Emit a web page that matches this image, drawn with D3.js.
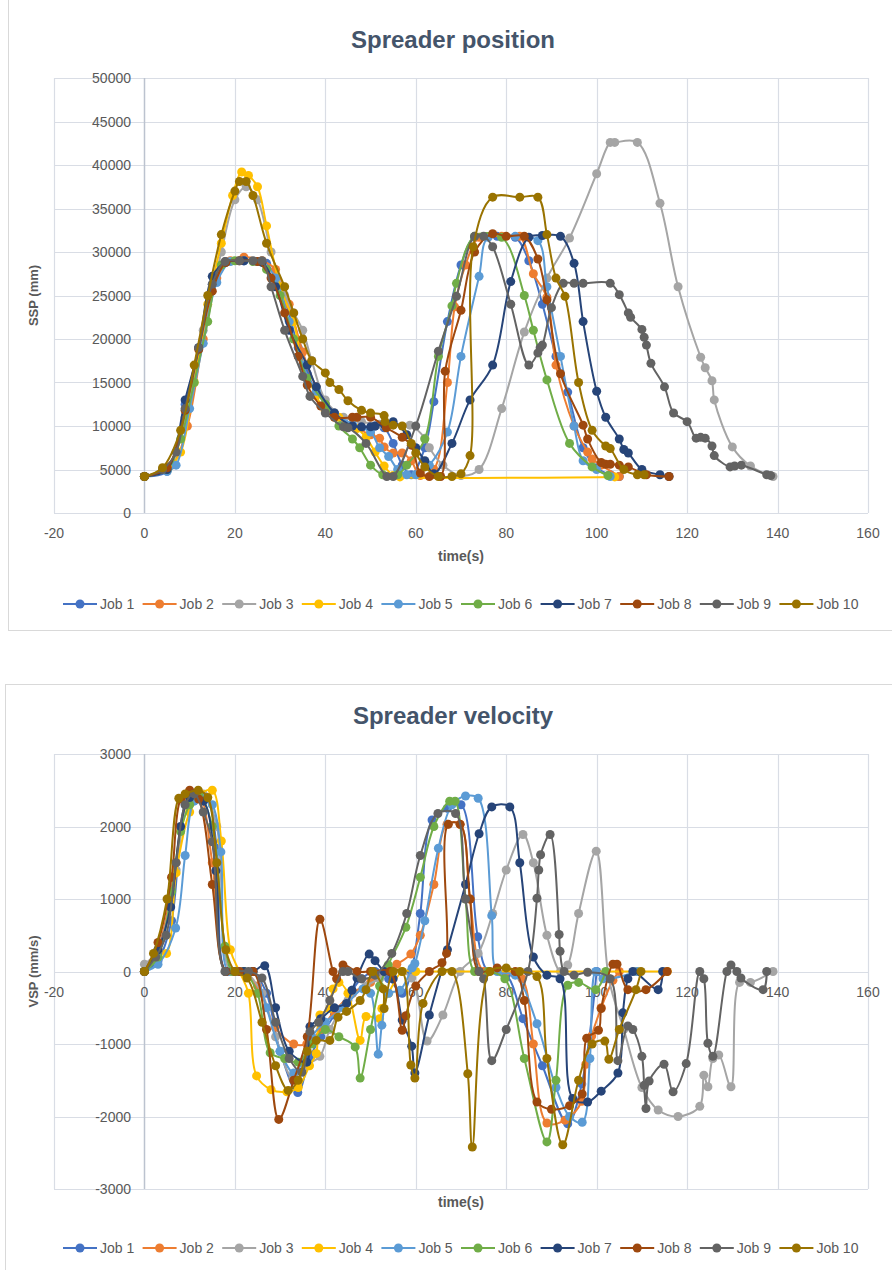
<!DOCTYPE html>
<html>
<head>
<meta charset="utf-8">
<script src="https://cdn.jsdelivr.net/npm/d3@7"></script>
<style>
  body { margin: 0; background: #fff; }
  svg text { font-family: "Liberation Sans", Arial, sans-serif; }
</style>
</head>
<body>
<svg id="chart" width="892" height="1270"></svg>
<script>
// Series names and Office colours
const jobs = ["Job 1", "Job 2", "Job 3", "Job 4", "Job 5", "Job 6", "Job 7", "Job 8", "Job 9", "Job 10"];
const jobColors = ["#4472C4", "#ED7D31", "#A5A5A5", "#FFC000", "#5B9BD5", "#70AD47", "#264478", "#9E480E", "#636363", "#997300"];

// Tick labels
const xTicks = [-20, 0, 20, 40, 60, 80, 100, 120, 140, 160];
const posTicks = [0, 5000, 10000, 15000, 20000, 25000, 30000, 35000, 40000, 45000, 50000];
const velTicks = [-3000, -2000, -1000, 0, 1000, 2000, 3000];

// Spreader position [time (s), SSP (mm)]
const pos1 = [[0,4200],[5,4800],[9,12500],[12,19000],[15,26300],[18,28900],[22,29000],[25,28900],[27,28700],[31,24500],[34,19000],[36,16000],[40,12500],[44,10500],[48,9800],[51,10000],[53,9800],[55,8000],[57,5500],[59,4400],[62,7500],[64,12800],[67,22000],[70,28500],[73,31700],[78,31800],[82,31700],[85,29000],[88,24000],[91,18000],[93.6,13900],[97,7500],[100,5200],[103,4400],[105,4200]];
const pos2 = [[0,4200],[6,5500],[9.5,10000],[13,20000],[16,27000],[19,29000],[22,29400],[26,29000],[29,28000],[32,24000],[35,18500],[38,14500],[42,11500],[46,10000],[50,9000],[52,8600],[53,7600],[55,6900],[57,6900],[59,6000],[61,4300],[64,5000],[67,15000],[68.6,23700],[71,28500],[74,31700],[79,31800],[83,31800],[86,27500],[89,24800],[91,17000],[95,10000],[98,7000],[99,6200],[101,5500],[105,4200]];
const pos3 = [[0,4200],[5,5000],[9,11000],[13,21000],[17,30000],[20,36000],[22.5,37500],[25,36000],[28,30000],[31,25000],[33,23000],[35,21000],[37,17500],[40,13000],[44,11000],[48,10500],[52,10200],[55,10200],[58.7,10100],[62,8600],[63,7500],[66,5500],[70,4300],[74,5000],[79,12000],[84,20800],[89,27000],[94,31600],[100,39000],[103,42600],[104,42600],[109,42600],[114,35600],[118,26000],[123,17900],[124,16700],[125.5,15200],[126,13000],[130,7600],[134,5400],[139,4200]];
const pos4 = [[0,4200],[5,5000],[8,7000],[11,15000],[14,24000],[17,31000],[19.5,36500],[21.5,39200],[23,38800],[25,37500],[27,33000],[30,26000],[33,22000],[35,17000],[38,13500],[40,11700],[43,11000],[45,10000],[47,9700],[49,8700],[51,7000],[53,5400],[55,4300],[56.5,4150],[104,4150]];
const pos5 = [[0,4200],[5,4800],[7,5500],[10,12000],[13,19500],[16,26500],[19,28900],[22,29000],[26,28900],[29,27000],[32,22000],[35,17000],[38,14000],[42,11500],[46,10200],[50,9300],[52,7500],[54,6500],[56,5000],[58,4400],[60,4400],[63,5500],[67,9300],[70,18000],[74,27200],[76,31700],[82,31800],[87,31300],[89,26000],[92,18000],[95,10000],[97,6000],[100,5000],[103,4200]];
const pos6 = [[0,4200],[5,5000],[8,8500],[11,15000],[14,22000],[17,28500],[20,29000],[24,28900],[27,28000],[30,25000],[33,20000],[36,15500],[40,12500],[43,10000],[46,8500],[47.6,7500],[50,5500],[52.7,4400],[56,4400],[58,5500],[62,8500],[65,18000],[68,23800],[69,26400],[73,31800],[79,31700],[84,25000],[86,21000],[89,15300],[94,8000],[99,5300],[102.5,4300]];
const pos7 = [[0,4200],[5,5000],[9,13000],[12,19000],[15,27200],[18,28800],[22,29000],[26,28800],[29,26000],[32,21000],[36,17000],[38,14500],[42,11500],[46,10000],[48,9900],[50,9900],[51,10000],[53,10200],[55,10500],[58,9000],[60,7500],[62,6000],[64,4500],[68,8000],[72,13000],[77,17000],[81,26600],[85,31700],[88,31900],[92,31800],[95,28700],[97,22000],[100,14000],[102,11000],[105,8500],[106,7300],[107,6900],[110,5000],[114,4400],[116,4200]];
const pos8 = [[0,4200],[5,5200],[9,11800],[12,18800],[15,25500],[18,28800],[21,29000],[25,28900],[28,27000],[31,23000],[34,18000],[36,14700],[39,12300],[42,11000],[46,11000],[47,11000],[50,11000],[53.5,9800],[57,8700],[59,7800],[61,4600],[63,4200],[65.5,4200],[66.5,16300],[70,23300],[73,30000],[77,32100],[80,31800],[84,31800],[87,29200],[89,24500],[92,16000],[97,10100],[98,8500],[101,5800],[102,5600],[103,5600],[105,5500],[107,5300],[111,4400],[116,4200]];
const pos9 = [[0,4200],[4,5000],[7,7000],[9,12000],[12,19000],[15,26300],[17.8,28900],[21,29000],[24,29000],[26,29000],[28,26000],[31,21000],[35,15700],[36.6,13400],[40,11500],[44,9900],[45,9800],[49,8000],[53.6,4200],[55,4200],[60,10000],[65,18600],[69,24900],[73,31800],[75,31800],[77,30600],[81,24000],[85,17000],[87,18400],[87.5,19000],[88,19300],[90,23600],[92.6,26400],[95,26400],[97,26400],[103,26400],[105,25100],[107,23000],[107.5,22500],[110,21100],[110.5,20200],[111,19300],[112,17200],[115,14500],[117,11500],[120,10500],[122,8600],[123,8700],[124,8600],[125.5,7700],[126,6600],[129.5,5300],[130.5,5400],[132,5500],[137.6,4400],[138.5,4300]];
const pos10 = [[0,4200],[4,5200],[8,9500],[11,17000],[14,25000],[17,32000],[20,37000],[21,38100],[22.5,38100],[24,36500],[27,31000],[31,26000],[33,23000],[35,20000],[37,17500],[40,16100],[41,15000],[43,14200],[45,12900],[48,11800],[50,11500],[53,11200],[53.2,10500],[55,10100],[57,10000],[59,8000],[60,6900],[62,5300],[65,4200],[68,4200],[70,4500],[72,6600],[72.7,30600],[77,36300],[83,36300],[87,36300],[89,32000],[91,27000],[93,24900],[96,15000],[99,9500],[102,7700],[103,7400],[106,5000],[109,4400],[110.5,4400]];

// Spreader velocity [time (s), VSP (mm/s)]
const vel1 = [[0,0],[3,150],[6,700],[9,2300],[11,2450],[13.8,2380],[16,1700],[18,0],[21,0],[24,0],[27,-300],[30,-1100],[33.9,-1670],[36.5,-1200],[39,-900],[42,-600],[45.9,-260],[48,-100],[51,0],[54,-100],[57,-300],[59,0],[61,800],[63.6,2090],[67,2250],[70,2300],[73.7,480],[76,0],[80,-50],[83.7,-650],[88,-1300],[93.6,-2100],[96.7,-1550],[100,0]];
const vel2 = [[0,0],[3,300],[7,1500],[9.5,2350],[12,2450],[15,1500],[18,0],[21,0],[25,-200],[28.9,-770],[33,-1000],[35.9,-1000],[39,-800],[42,-550],[46,-300],[50,-150],[53,0],[55.8,100],[58.9,240],[61,500],[64,1200],[66.9,2030],[69.8,2030],[72,1000],[75,0],[80,0],[83.5,-100],[86,-1000],[89,-2090],[93,-2050],[96.7,-1790],[97.6,-1280],[98.9,-890],[101,-500],[103.6,-120],[105,0]];
const vel3 = [[0,100],[3,300],[7,1400],[10,2400],[13,2450],[16,2000],[19,0],[22,0],[26,-300],[29,-900],[32.8,-1470],[35.5,-1300],[38.8,-1170],[41,-800],[45,-400],[49,-200],[52,-100],[55,0],[59.1,-90],[62.5,-960],[66,-600],[69.8,0],[73.8,250],[77,800],[80,1400],[83.7,1890],[86,1500],[89,500],[92,0],[93.6,90],[96,800],[99.9,1660],[102.7,-100],[106,-800],[110,-1600],[113.6,-1910],[118,-2000],[122.8,-1860],[123.7,-1430],[124.6,-1590],[125.7,-1200],[127,-1150],[129.7,-1590],[131.6,-150],[134,-150],[139,0]];
const vel4 = [[0,0],[2.5,150],[4.9,250],[7,1360],[10,2200],[12.5,2450],[15,2500],[17,1800],[19,300],[21,0],[23,-300],[24.8,-1440],[28,-1630],[31.5,-1660],[34,-1600],[36.5,-1300],[38,-1130],[38.8,-600],[41,-510],[41.7,-240],[43,-150],[45,-300],[47.7,-950],[49,-620],[52,-650],[52.5,-510],[54,-300],[57,0],[60,0],[108.9,0],[115.6,0]];
const vel5 = [[0,0],[3,100],[6.9,600],[9,1600],[11,2350],[13,2400],[15,2300],[16.9,1650],[18.5,0],[21,0],[24,0],[27,-500],[30,-1100],[33,-1400],[35,-1250],[37,-900],[40,-700],[44,-500],[48.3,-240],[50,-300],[51.7,-1140],[52.5,-740],[54,-300],[56.5,-260],[59.2,50],[59.8,110],[62,700],[65,1700],[68,2300],[71,2420],[73.8,2390],[76.8,770],[78,0],[82,-50],[86.8,-720],[91,-1600],[94,-2000],[96.8,-2080],[98.5,-1200],[99.8,0],[101.4,-100],[108.9,0]];
const vel6 = [[0,0],[3,200],[6,1100],[8,1930],[10,2300],[12,2450],[15,2000],[17.8,350],[19.5,0],[22,0],[25,-300],[27.8,-1120],[31,-1200],[34,-1250],[37,-1000],[40,-800],[43,-900],[46.6,-1040],[47.7,-1470],[50,-800],[52,-200],[53.9,90],[57.8,610],[61,1300],[64,2000],[67.5,2350],[68.7,2350],[71,1000],[73,0],[76,0],[79.7,-100],[84,-1200],[89,-2350],[91,-1500],[93.6,-190],[96,-150],[99.8,-250],[102,0]];
const vel7 = [[0,0],[3,300],[5.8,890],[8,2000],[10,2400],[13,2350],[15.8,1390],[18,0],[22,0],[24,0],[26.6,80],[29,-500],[32,-1100],[35.9,-1250],[36.6,-760],[39,-650],[42,-500],[44.7,-440],[45.9,-260],[47,-90],[49.7,240],[51,150],[53,0],[55,-100],[57,-670],[59.1,-1030],[59.8,-1400],[63,-600],[67,300],[71,1200],[74,1900],[76.8,2270],[80.8,2270],[83,1500],[86,200],[89,-50],[91.9,-100],[94.7,-1750],[98,-1800],[101,-1650],[104.7,-1400],[105.8,-570],[106.9,-100],[108,0],[113.6,-250],[114.6,0]];
const vel8 = [[0,0],[3,400],[6,1300],[8,2380],[10,2500],[12,2380],[15,1200],[18,0],[21,0],[24,0],[27,-800],[29.7,-2040],[33,-1500],[36,-900],[38.8,720],[41.7,0],[42.5,-100],[43.9,90],[47,0],[50,0],[54.3,0],[57,-810],[57.8,-610],[60,-200],[63,0],[65.8,120],[66.8,250],[67.2,2030],[69.8,2030],[72,1000],[74,0],[78,50],[82,0],[84,-400],[86.8,-1800],[90,-1900],[94,-1850],[96.8,-1690],[97.8,-920],[100.4,-810],[101,-510],[103.6,100],[104.5,100],[106.9,-250],[110.9,-250],[115.6,0]];
const vel9 = [[0,0],[2.5,200],[4.8,500],[7,1500],[9,2300],[11,2450],[13,2200],[15,1790],[17.8,0],[20,0],[23,0],[26,-90],[29,-700],[32,-1200],[34.8,-1390],[36.6,-830],[38.5,-700],[41,-400],[43.9,0],[45,0],[48,-100],[51,-50],[54.7,250],[58,800],[61,1600],[64.9,2180],[68.8,2180],[71,1000],[74,0],[75,-100],[76.8,-1230],[80,-800],[84.8,0],[86.8,1010],[87.2,1400],[87.6,1610],[89.7,1890],[91.7,510],[91.9,280],[92.8,0],[95,-50],[98,-10],[103,-100],[104.7,-1230],[106.9,-750],[108,-800],[110,-1170],[110.5,-1570],[110.9,-1890],[111.6,-1510],[114.9,-1280],[116.9,-1660],[119.8,-1270],[122.8,0],[123.7,-100],[124.6,-990],[125.7,-1170],[128.8,0],[129.7,90],[131,0],[131.9,-90],[136.8,-250],[137.6,0]];
const vel10 = [[0,0],[2,250],[5,1000],[7.6,2390],[9,2450],[11.9,2500],[14,2400],[16,1500],[18,300],[20,0],[22.7,-90],[26,-700],[29,-1300],[31.8,-1640],[34,-1500],[36,-1100],[38,-950],[41,-950],[42.8,-630],[44.7,-550],[47.7,-400],[49,-250],[50.5,0],[52.8,-240],[53,-510],[55,0],[57,0],[58.9,-1290],[59.8,-1470],[61.6,-440],[65.8,0],[68,0],[71.5,-1410],[72.5,-2420],[76.4,0],[80,50],[83,0],[86.8,-70],[89,-1200],[92.5,-2390],[96,-1500],[99,-1000],[101.8,-960],[102.7,-1210],[105,-800],[108.7,-250],[109.8,0]];

const posSeries = [pos1, pos2, pos3, pos4, pos5, pos6, pos7, pos8, pos9, pos10];
const velSeries = [vel1, vel2, vel3, vel4, vel5, vel6, vel7, vel8, vel9, vel10];

const svg = d3.select("#chart");
const TEXT = "#595959";
const GRID = "#d9dde5";

function drawPanel(cfg) {
  const g = svg.append("g");

  // panel frame
  g.append("rect")
    .attr("x", cfg.frame[0] + 0.5).attr("y", cfg.frame[1] + 0.5)
    .attr("width", cfg.frame[2]).attr("height", cfg.frame[3])
    .attr("fill", "#fff").attr("stroke", "#d9d9d9");

  const x = d3.scaleLinear().domain([-20, 160]).range([54, 868]);
  const y = d3.scaleLinear().domain(cfg.yDomain).range([cfg.bottom, cfg.top]);

  // gridlines
  g.append("g").selectAll("line").data(cfg.yTicks).join("line")
    .attr("x1", x(-20)).attr("x2", x(160))
    .attr("y1", d => Math.round(y(d)) + 0.5).attr("y2", d => Math.round(y(d)) + 0.5)
    .attr("stroke", GRID).attr("stroke-width", 1.2);
  g.append("g").selectAll("line").data(xTicks).join("line")
    .attr("x1", d => Math.round(x(d)) + 0.5).attr("x2", d => Math.round(x(d)) + 0.5)
    .attr("y1", cfg.top).attr("y2", cfg.bottom)
    .attr("stroke", d => d === 0 ? "#bcc3cf" : GRID).attr("stroke-width", d => d === 0 ? 1.5 : 1.2);

  // tick labels
  g.append("g").selectAll("text").data(cfg.yTicks).join("text")
    .attr("x", 131).attr("y", d => y(d) + 5)
    .attr("text-anchor", "end").attr("font-size", 14).attr("fill", TEXT)
    .text(d => d);
  const xLabelY = y(cfg.xAxisAt) + 25;
  g.append("g").selectAll("text").data(xTicks).join("text")
    .attr("x", d => x(d)).attr("y", xLabelY)
    .attr("text-anchor", "middle").attr("font-size", 14).attr("fill", TEXT)
    .text(d => d);

  // titles
  g.append("text").attr("x", 453).attr("y", cfg.titleY)
    .attr("text-anchor", "middle").attr("font-size", 24).attr("font-weight", "bold")
    .attr("fill", "#44546A").text(cfg.title);
  g.append("text").attr("x", 461).attr("y", cfg.xTitleY)
    .attr("text-anchor", "middle").attr("font-size", 14).attr("font-weight", "bold")
    .attr("fill", TEXT).text("time(s)");
  g.append("text")
    .attr("transform", `translate(38,${(cfg.top + cfg.bottom) / 2}) rotate(-90)`)
    .attr("text-anchor", "middle").attr("font-size", 13).attr("font-weight", "bold")
    .attr("fill", TEXT).text(cfg.yTitle);

  // series: smoothed lines with round markers
  const line = d3.line()
    .x(d => x(d[0])).y(d => y(d[1]))
    .curve(d3.curveCatmullRom.alpha(0.5));

  cfg.series.forEach((data, i) => {
    const s = g.append("g");
    s.append("path").datum(data)
      .attr("d", line).attr("fill", "none")
      .attr("stroke", jobColors[i]).attr("stroke-width", 2);
    s.selectAll("circle").data(data).join("circle")
      .attr("cx", d => x(d[0])).attr("cy", d => y(d[1]))
      .attr("r", 4.5).attr("fill", jobColors[i]);
  });

  // legend
  const lg = g.append("g");
  jobs.forEach((name, i) => {
    const x0 = 63 + i * 79.6;
    lg.append("line").attr("x1", x0).attr("x2", x0 + 34)
      .attr("y1", cfg.legendY).attr("y2", cfg.legendY)
      .attr("stroke", jobColors[i]).attr("stroke-width", 2);
    lg.append("circle").attr("cx", x0 + 17).attr("cy", cfg.legendY)
      .attr("r", 4.5).attr("fill", jobColors[i]);
    lg.append("text").attr("x", x0 + 37).attr("y", cfg.legendY + 5)
      .attr("font-size", 14).attr("fill", TEXT).text(name);
  });
}

drawPanel({
  frame: [8, -2, 886, 632],
  title: "Spreader position", titleY: 48,
  top: 78, bottom: 513, yDomain: [0, 50000], yTicks: posTicks, xAxisAt: 0,
  xTitleY: 561, yTitle: "SSP (mm)", legendY: 604,
  series: posSeries
});

drawPanel({
  frame: [5, 684, 889, 590],
  title: "Spreader velocity", titleY: 724,
  top: 754, bottom: 1189, yDomain: [-3000, 3000], yTicks: velTicks, xAxisAt: 0,
  xTitleY: 1207, yTitle: "VSP (mm/s)", legendY: 1248,
  series: velSeries
});
</script>
</body>
</html>
